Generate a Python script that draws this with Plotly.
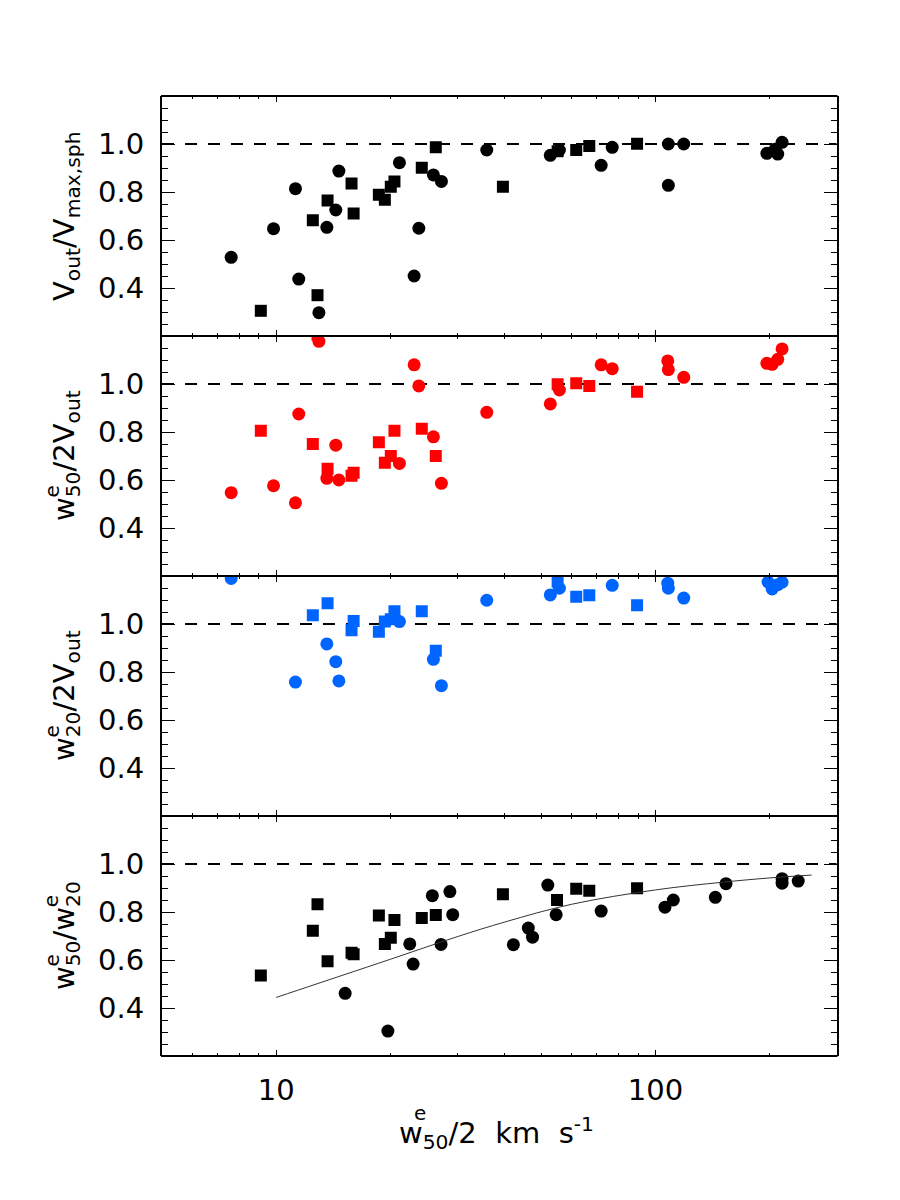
import numpy as np
import plotly.graph_objects as go

# ---------------- data ----------------
# Panel 1: V_out / V_max,sph  (black)
p1_circ_x = [7.61, 9.84, 11.24, 11.47, 12.96, 13.60, 14.36, 14.63, 21.13, 23.1, 23.77, 25.97, 27.26, 35.9,
             52.8, 55.8, 71.9, 76.9, 108.1, 108.1, 118.7, 196.6, 206.6, 210.0, 215.6]
p1_circ_y = [0.528, 0.647, 0.814, 0.437, 0.297, 0.653, 0.725, 0.887, 0.922, 0.450, 0.649, 0.871, 0.844, 0.975,
             0.953, 0.975, 0.911, 0.986, 1.000, 0.828, 1.000, 0.961, 0.978, 0.958, 1.007]
p1_sq_x = [9.11, 12.49, 12.85, 13.66, 15.8, 16.0, 18.65, 19.34, 20.05, 20.5, 24.2, 26.35, 39.6, 55.2, 61.8, 66.9, 89.4]
p1_sq_y = [0.305, 0.682, 0.370, 0.765, 0.835, 0.710, 0.789, 0.768, 0.822, 0.844, 0.901, 0.986, 0.822, 0.970,
           0.975, 0.992, 1.001]

# Panel 2: w50 / 2 V_out  (red)
p2_circ_x = [7.61, 9.84, 11.24, 11.47, 12.96, 13.60, 14.36, 14.63, 21.13, 23.1, 23.77, 25.97, 27.26, 35.9,
             52.8, 55.8, 71.9, 76.9, 107.7, 108.1, 118.7, 196.6, 203.0, 210.0, 215.6]
p2_circ_y = [0.547, 0.576, 0.505, 0.875, 1.178, 0.607, 0.745, 0.600, 0.669, 1.080, 0.992, 0.780, 0.586, 0.882,
             0.917, 0.975, 1.080, 1.064, 1.096, 1.060, 1.028, 1.086, 1.082, 1.103, 1.146]
p2_sq_x = [9.11, 12.49, 12.85, 13.66, 15.8, 16.0, 18.65, 19.34, 20.05, 20.5, 24.2, 26.35, 55.2, 61.8, 66.9, 89.4]
p2_sq_y = [0.805, 0.750, 1.205, 0.647, 0.618, 0.630, 0.757, 0.672, 0.700, 0.805, 0.814, 0.700, 0.999, 1.003,
           0.992, 0.968]

# Panel 3: w20 / 2 V_out  (blue)
p3_circ_x = [7.61, 11.24, 13.60, 14.36, 14.63, 21.13, 25.97, 27.26, 35.9, 52.8, 55.8, 76.9, 107.7, 108.1, 118.7,
             198.0, 203.0, 210.0, 215.6]
p3_circ_y = [1.190, 0.758, 0.917, 0.843, 0.763, 1.010, 0.853, 0.743, 1.099, 1.121, 1.149, 1.161, 1.170, 1.149,
             1.108, 1.175, 1.146, 1.164, 1.174]
p3_sq_x = [12.49, 13.66, 15.8, 16.0, 18.65, 19.34, 20.05, 20.5, 24.2, 26.35, 55.2, 61.8, 66.9, 89.4]
p3_sq_y = [1.036, 1.086, 0.974, 1.012, 0.968, 1.010, 1.020, 1.053, 1.053, 0.889, 1.176, 1.114, 1.120, 1.078]

# Panel 4: w50 / w20  (black)
p4_circ_x = [15.2, 19.7, 22.5, 22.96, 25.8, 27.2, 28.7, 29.2, 42.2, 46.2, 47.4, 52.0, 54.7, 71.9, 105.9, 111.4,
             143.8, 153.4, 215.6, 215.6, 237.8]
p4_circ_y = [0.461, 0.304, 0.667, 0.583, 0.868, 0.665, 0.885, 0.789, 0.664, 0.733, 0.695, 0.912, 0.789, 0.804,
             0.820, 0.850, 0.861, 0.918, 0.939, 0.920, 0.929]
p4_sq_x = [9.11, 12.49, 12.85, 13.66, 15.8, 16.0, 18.65, 19.34, 20.05, 20.5, 24.2, 26.35, 39.6, 55.0, 61.8, 66.9, 89.4]
p4_sq_y = [0.535, 0.722, 0.832, 0.595, 0.630, 0.624, 0.785, 0.667, 0.693, 0.767, 0.775, 0.787, 0.874, 0.850,
           0.897, 0.889, 0.899]

# thin curve in panel 4
curve_x = [10, 15, 20, 30, 40, 60, 100, 150, 200, 258]
curve_y = [0.444, 0.537, 0.603, 0.697, 0.758, 0.832, 0.892, 0.924, 0.942, 0.954]

y_tick_vals = [0.4, 0.6, 0.8, 1.0]
y_tick_text = ["0.4", "0.6", "0.8", "1.0"]
y_minor_vals = [0.25, 0.3, 0.35, 0.45, 0.5, 0.55, 0.65, 0.7, 0.75, 0.85, 0.9, 0.95, 1.05, 1.1, 1.15]
x_tick_vals = [10, 100]
x_tick_text = ["10", "100"]
x_minor_vals = [6, 7, 8, 9, 20, 30, 40, 50, 60, 70, 80, 90, 200, 300]

RED = "#ff0000"
BLUE = "#0064ff"
BLACK = "#000000"
FONT = "DejaVu Sans"
FS = 29
FSE = 20
NB = "\u00a0"

panels = [
    (p1_circ_x, p1_circ_y, p1_sq_x, p1_sq_y, BLACK),
    (p2_circ_x, p2_circ_y, p2_sq_x, p2_sq_y, RED),
    (p3_circ_x, p3_circ_y, p3_sq_x, p3_sq_y, BLUE),
    (p4_circ_x, p4_circ_y, p4_sq_x, p4_sq_y, BLACK),
]

W, H = 900, 1200
X0, X1 = 162, 836.5
tops = [96, 336, 576, 816]
PH = 240

fig = go.Figure()
layout = dict(width=W, height=H, margin=dict(l=0, r=0, t=0, b=0), paper_bgcolor="white",
              plot_bgcolor="white", showlegend=False, font=dict(family=FONT, size=FS, color="black"))
shapes = []
for i, (cx, cy, sx, sy, col) in enumerate(panels):
    n = "" if i == 0 else str(i + 1)
    xa, ya = "x" + n, "y" + n
    fig.add_trace(go.Scatter(x=cx, y=cy, mode="markers", xaxis=xa, yaxis=ya, cliponaxis=True,
                             marker=dict(symbol="circle", size=13, color=col, line=dict(width=0))))
    fig.add_trace(go.Scatter(x=sx, y=sy, mode="markers", xaxis=xa, yaxis=ya, cliponaxis=True,
                             marker=dict(symbol="square", size=12, color=col, line=dict(width=0))))
    top = tops[i]
    bot = top + PH
    layout["xaxis" + n] = dict(
        type="log", range=[np.log10(5), np.log10(300)], domain=[X0 / W, X1 / W], anchor=ya,
        tickmode="array", tickvals=x_tick_vals, ticktext=x_tick_text, showticklabels=(i == 3),
        ticks="inside", ticklen=6, tickwidth=1.3, tickcolor="black",
        minor=dict(tickmode="array", tickvals=x_minor_vals, ticks="inside", ticklen=3, tickwidth=1.3,
                   tickcolor="black", showgrid=False),
        showline=False, mirror="allticks", showgrid=False, zeroline=False,
        tickfont=dict(family=FONT, size=FS), ticklabelstandoff=14)
    layout["yaxis" + n] = dict(
        range=[0.2, 1.2], domain=[1 - bot / H, 1 - top / H], anchor=xa,
        tickmode="array", tickvals=y_tick_vals, ticktext=y_tick_text,
        ticks="inside", ticklen=13, tickwidth=1.3, tickcolor="black",
        minor=dict(tickmode="array", tickvals=y_minor_vals, ticks="inside", ticklen=6, tickwidth=1.3,
                   tickcolor="black", showgrid=False),
        showline=True, linewidth=2, linecolor="black", mirror="allticks", showgrid=False, zeroline=False,
        tickfont=dict(family=FONT, size=FS), ticklabelstandoff=10)
    shapes.append(dict(type="line", xref=xa + " domain", yref=ya, x0=0, x1=1, y0=1.0, y1=1.0,
                       line=dict(color="black", width=1.8, dash="12px,11px"), layer="below"))
    # horizontal frame lines of the panel (shared borders drawn once at the same pixel row)
    for yy in (0, 1):
        shapes.append(dict(type="line", xref=xa + " domain", yref=ya + " domain", x0=-0.0015, x1=1.0015,
                           y0=yy, y1=yy, line=dict(color="black", width=2), layer="above"))

fig.add_trace(go.Scatter(x=curve_x, y=curve_y, mode="lines", xaxis="x4", yaxis="y4",
                         line=dict(color="#333333", width=1, shape="spline")))

layout["shapes"] = shapes

# axis titles as annotations
TX = 66
titles = [
    "V<sub>out</sub>/V<sub>max,sph</sub>",
    "w<sub>50</sub>/2V<sub>out</sub>",
    "w<sub>20</sub>/2V<sub>out</sub>",
    "w<sub>50</sub>/w<sub>20</sub>",
]
ann = []
for i, t in enumerate(titles):
    cyp = tops[i] + PH / 2
    ann.append(dict(text=t, xref="paper", yref="paper", x=TX / W, y=1 - cyp / H, xanchor="center",
                    yanchor="middle", textangle=-90, showarrow=False, font=dict(family=FONT, size=FS)))
# stacked superscript "e" marks
e_marks = [(51, 491.5), (51, 731.5), (51, 960.5), (51, 901.2)]
for (ex, ey) in e_marks:
    ann.append(dict(text="e", xref="paper", yref="paper", x=ex / W, y=1 - ey / H, xanchor="center",
                    yanchor="middle", textangle=-90, showarrow=False, font=dict(family=FONT, size=FSE)))
# x title
ann.append(dict(text="w<sub>50</sub>/2" + NB * 2 + "km" + NB * 2 + "s<sup>-1</sup>", xref="paper",
                yref="paper", x=497 / W, y=1 - 1133 / H, xanchor="center", yanchor="middle",
                showarrow=False, font=dict(family=FONT, size=FS)))
ann.append(dict(text="e", xref="paper", yref="paper", x=420 / W, y=1 - 1113 / H, xanchor="center",
                yanchor="middle", showarrow=False, font=dict(family=FONT, size=FSE)))
layout["annotations"] = ann

fig.update_layout(**layout)
fig.write_html("out.html")
